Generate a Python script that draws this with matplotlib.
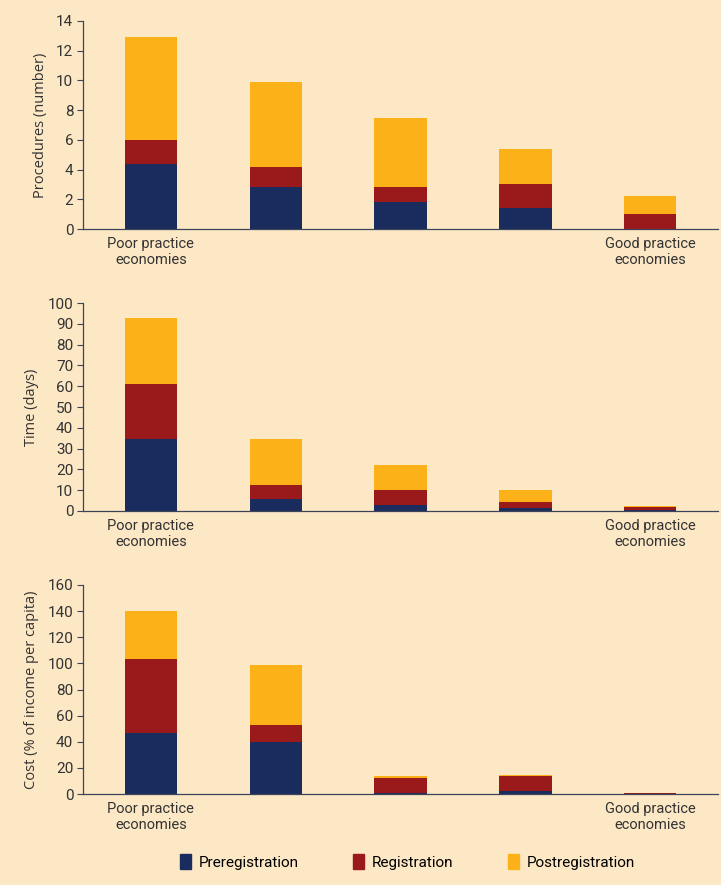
import numpy as np
import matplotlib
matplotlib.use("Agg")
import matplotlib.pyplot as plt
from matplotlib.patches import Patch

# Five groups of economies, from poor to good practice
groups = ["Poor practice\neconomies", "", "", "", "Good practice\neconomies"]
phases = ["Preregistration", "Registration", "Postregistration"]
colors = ["#1a2b5e", "#9a1a1c", "#fbb117"]

# Procedures (number), per phase
proc_pre = [4.4, 2.8, 1.8, 1.4, 0.0]
proc_reg = [1.6, 1.4, 1.0, 1.6, 1.0]
proc_post = [6.9, 5.7, 4.7, 2.4, 1.2]

# Time (days), per phase
time_pre = [34.5, 6.0, 3.0, 1.5, 0.5]
time_reg = [26.5, 6.5, 7.0, 3.0, 1.3]
time_post = [32.0, 22.0, 12.0, 5.5, 0.7]

# Cost (% of income per capita), per phase
cost_pre = [47, 40, 1, 2, 0.0]
cost_reg = [56, 13, 11, 12, 0.8]
cost_post = [37, 46, 2, 0.5, 0.2]

panels = [
    ("Procedures (number)", [proc_pre, proc_reg, proc_post], 14, 2),
    ("Time (days)", [time_pre, time_reg, time_post], 100, 10),
    ("Cost (% of income per capita)", [cost_pre, cost_reg, cost_post], 160, 20),
]

bg = "#fde8c6"
axis_col = "#3c4458"
tick_font = ["Roboto", "DejaVu Sans"]

fig = plt.figure(figsize=(7.21, 8.85), dpi=100, facecolor=bg)

boxes = [(0.1151, 0.7412, 0.881, 0.2351),
         (0.1151, 0.4226, 0.881, 0.2350),
         (0.1151, 0.1028, 0.881, 0.2362)]

x = np.arange(len(groups))
for (label, series, ymax, step), box in zip(panels, boxes):
    ax = fig.add_axes(box)
    ax.set_facecolor(bg)
    bottom = np.zeros(len(groups))
    for vals, c in zip(series, colors):
        ax.bar(x, vals, width=0.42, bottom=bottom, color=c, linewidth=0)
        bottom += np.array(vals)
    ax.set_xlim(-0.544, 4.544)
    ax.set_ylim(0, ymax)
    ax.set_yticks(np.arange(0, ymax + 1, step))
    ax.set_xticks(x)
    ax.set_xticklabels(groups, family=tick_font, fontsize=10.5, color="#333333",
                       linespacing=1.15)
    for t in ax.get_yticklabels():
        t.set_family(tick_font)
        t.set_fontsize(11)
        t.set_color("#333333")
    ax.tick_params(axis="x", length=0, pad=6)
    ax.tick_params(axis="y", length=4, width=0.8, color=axis_col, pad=3)
    ax.spines["top"].set_visible(False)
    ax.spines["right"].set_visible(False)
    for s in ["left", "bottom"]:
        ax.spines[s].set_color(axis_col)
        ax.spines[s].set_linewidth(0.9)
    ax.set_ylabel(label, fontsize=10.5, color="#333333", family=["Open Sans", "DejaVu Sans"],
                  labelpad=6)

handles = [Patch(color=c) for c in colors]
fig.legend(handles, phases, loc="center", bbox_to_anchor=(0.565, 0.026), ncol=3,
           frameon=False, handlelength=0.7, handleheight=1.1, handletextpad=0.5,
           columnspacing=3.6, prop={"family": tick_font, "size": 11})

fig.savefig("out.png", dpi=100, facecolor=bg)
